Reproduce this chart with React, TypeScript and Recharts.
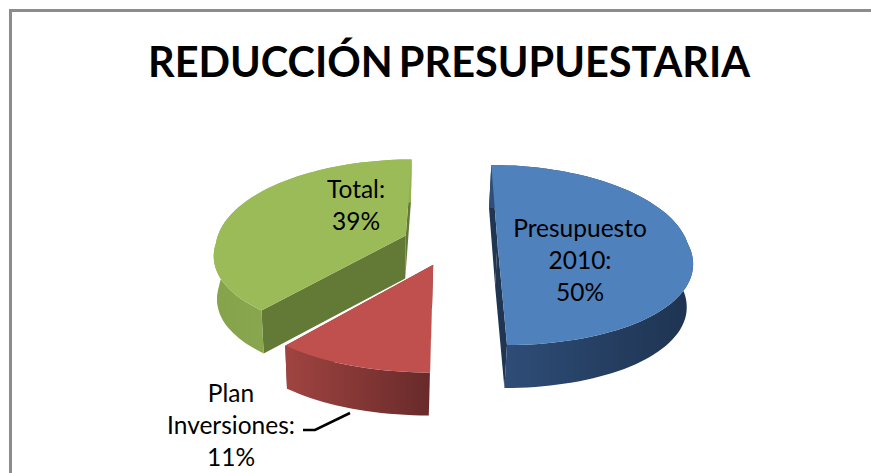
import React from "react";
import { PieChart, Pie, Cell } from "recharts";

const names = ["Presupuesto 2010:", "Plan Inversiones:", "Total:"];
const shares = [50, 11, 39];
const labelLines = [["Presupuesto", "2010:", "50%"], ["Plan", "Inversiones:", "11%"], ["Total:", "39%"]];
const data = names.map((name, i) => ({ name, value: shares[i] }));

const topColors = ["#4f81bd", "#c0504d", "#9bbb59"];
const wallLeft = ["#2f4f7a", "#a04441", "#84a34b"];
const wallRight = ["#1e3350", "#682a2a", "#93b154"];
const cutColors = ["#1f3552", "#7d3230", "#637a36"];
// label block centre, relative to the pie centre
const labelOffsets = [[130, 16], [-219, 181], [-94, -39]];

const EXPLODE = 0.25;
const RADIUS_PX = 190;
const DEPTH = 43;
const BOTTOM_SCALE = 0.98;
const BOTTOM_SHIFT = -1.5;
const rad = Math.PI / 180;

type P = [number, number];

function project(cx: number, cy: number, X: number, Y: number): P {
  const f = 1 + (Y < 0 ? 0.13 : 0.2) * Y;
  return [cx + X * f * RADIUS_PX, cy + 90 * Y + 12 * Y * Y];
}
const toPath = (pts: P[]) => "M" + pts.map((p) => p[0].toFixed(1) + "," + p[1].toFixed(1)).join("L") + "Z";

function Slice3D(props: any) {
  const { cx, cy, startAngle, endAngle, index, midAngle } = props;
  // clockwise-from-top angles
  const t0 = 90 - startAngle;
  const t1 = 90 - endAngle;
  const tm = midAngle !== undefined ? 90 - midAngle : (t0 + t1) / 2;
  const ox = EXPLODE * Math.sin(tm * rad);
  const oy = -EXPLODE * Math.cos(tm * rad);
  const at = (t: number) => project(cx, cy, ox + Math.sin(t * rad), oy - Math.cos(t * rad));
  const apex = project(cx, cy, ox, oy);
  const rim: P[] = [];
  const n = Math.max(8, Math.ceil(Math.abs(t1 - t0) / 2));
  for (let i = 0; i <= n; i++) rim.push(at(t0 + ((t1 - t0) * i) / n));
  const lower = (p: P): P => [cx + (p[0] - cx) * BOTTOM_SCALE + BOTTOM_SHIFT, p[1] + DEPTH];
  const bottom = rim.map(lower);
  const gid = "wall" + index;
  const first = rim[0];
  const last = rim[rim.length - 1];
  return (
    <g>
      <defs>
        <linearGradient id={gid} x1="0" y1="0" x2="1" y2="0">
          <stop offset="0%" stopColor={wallLeft[index]} />
          <stop offset="100%" stopColor={wallRight[index]} />
        </linearGradient>
      </defs>
      <path d={toPath([apex, first, lower(first), lower(apex)])} fill={cutColors[index]} />
      <path d={toPath([apex, last, lower(last), lower(apex)])} fill={cutColors[index]} />
      <path d={toPath([...rim, ...[...bottom].reverse()])} fill={`url(#${gid})`} />
      <path d={toPath([apex, ...rim])} fill={topColors[index]} />
    </g>
  );
}

function renderLabel(props: any) {
  const { cx, cy, index } = props;
  const lines = labelLines[index];
  const [dx, dy] = labelOffsets[index];
  const lh = 32;
  const y0 = cy + dy - ((lines.length - 1) * lh) / 2;
  return (
    <text key={index} x={cx + dx} y={y0} textAnchor="middle" dominantBaseline="central" fontFamily="Lato, sans-serif" fontSize={24.5} fill="#000">
      {lines.map((l, i) => (
        <tspan key={i} x={cx + dx} y={y0 + i * lh}>{l}</tspan>
      ))}
    </text>
  );
}

function renderLabelLine(props: any) {
  if (props.index !== 1) return <g key={props.index} />;
  const cx = props.cx ?? 450;
  const cy = props.cy ?? 243;
  return (
    <path key={1} d={`M${cx - 147},${cy + 187}L${cx - 135},${cy + 187}L${cx - 100},${cy + 170}`} fill="none" stroke="#000" strokeWidth={2.6} />
  );
}

export default function App() {
  return (
    <div style={{ position: "absolute", left: 0, top: 0, width: 871, height: 473, overflow: "hidden", background: "#fff" }}>
      <div style={{ position: "absolute", left: 9, top: 9, width: 880, height: 500, border: "3px solid #8c8c8c", boxSizing: "border-box" }} />
      <div style={{ position: "absolute", left: 0, top: 0 }}>
        <PieChart width={871} height={473} margin={{ top: 0, right: 0, bottom: 0, left: 0 }}>
          <text x={449} y={77} textAnchor="middle" fontFamily="Lato, sans-serif" fontWeight={700} fontSize={42} wordSpacing={-4} textLength={602} lengthAdjust="spacingAndGlyphs" fill="#000">
            REDUCCIÓN PRESUPUESTARIA
          </text>
          <Pie
            data={data}
            dataKey="value"
            nameKey="name"
            cx={450}
            cy={243}
            outerRadius={190}
            startAngle={90}
            endAngle={-270}
            paddingAngle={0}
            stroke="none"
            isAnimationActive={false}
            shape={Slice3D}
            label={renderLabel}
            labelLine={renderLabelLine}
          >
            {data.map((d, i) => (
              <Cell key={d.name} fill={topColors[i]} />
            ))}
          </Pie>
        </PieChart>
      </div>
    </div>
  );
}
